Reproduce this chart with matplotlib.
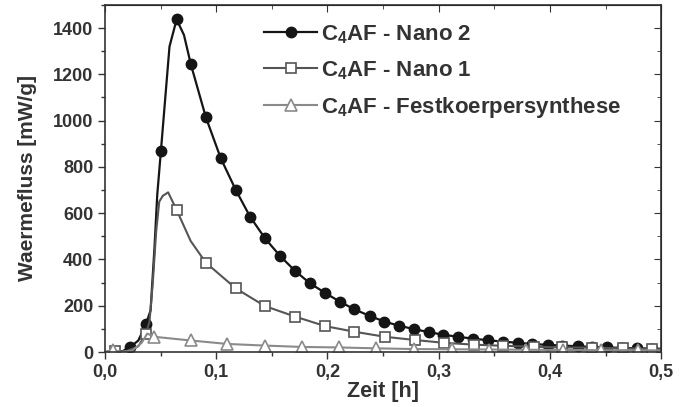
import numpy as np
import matplotlib
matplotlib.use('Agg')
import matplotlib.pyplot as plt
from matplotlib.ticker import MultipleLocator, FuncFormatter

plt.rcParams['font.family'] = ['Liberation Sans', 'DejaVu Sans']
plt.rcParams['font.weight'] = 'bold'
plt.rcParams['mathtext.fontset'] = 'custom'
plt.rcParams['mathtext.rm'] = 'Liberation Sans:bold'
plt.rcParams['mathtext.bf'] = 'Liberation Sans:bold'

# C4AF - Nano 2 (filled circles)
t_nano2 = [0.0, 0.008, 0.015, 0.0224, 0.030, 0.0368, 0.041, 0.0445, 0.047, 0.0503,
           0.058, 0.0644, 0.071, 0.0772, 0.0907, 0.1041, 0.1176, 0.1304, 0.1439,
           0.1574, 0.1708, 0.184, 0.198, 0.211, 0.224, 0.238, 0.251, 0.264, 0.278,
           0.291, 0.304, 0.317, 0.331, 0.344, 0.358, 0.371, 0.384, 0.398, 0.411,
           0.425, 0.438, 0.451, 0.465, 0.478, 0.492, 0.5]
w_nano2 = [0, 3, 2, 20, 50, 120, 180, 450, 680, 870,
           1320, 1437, 1370, 1243, 1014, 837, 700, 585, 491,
           415, 351, 298, 255, 218, 185, 156, 132, 114, 99,
           86, 75, 66, 58, 51, 45, 40, 35, 31, 28,
           25, 22, 20, 18, 16, 15, 14]
mk_nano2 = [3, 5, 9, 11] + list(range(13, 45))

# C4AF - Nano 1 (open squares)
t_nano1 = [0.0, 0.009, 0.020, 0.030, 0.0368, 0.040, 0.043, 0.046, 0.0488, 0.052,
           0.0568, 0.0644, 0.077, 0.0907, 0.1176, 0.1436, 0.171, 0.198, 0.224,
           0.2516, 0.2786, 0.3046, 0.3315, 0.358, 0.3854, 0.411, 0.4378, 0.4656,
           0.4916, 0.5]
w_nano1 = [0, 3, 5, 25, 80, 130, 300, 520, 650, 675,
           690, 614, 480, 386, 275, 199, 153, 112, 88,
           66, 52, 40, 32, 27, 23, 20, 19, 16,
           14, 14]
mk_nano1 = [1, 4, 11] + list(range(13, 29))

# C4AF - Festkoerpersynthese (open triangles)
t_fest = [0.0, 0.007, 0.015, 0.025, 0.033, 0.038, 0.0443, 0.077, 0.110, 0.1436,
          0.1775, 0.2103, 0.244, 0.2777, 0.3115, 0.345, 0.378, 0.412, 0.446,
          0.479, 0.5]
w_fest = [0, 10, 0, 8, 40, 80, 66, 50, 35, 28,
          22, 20, 16, 13, 12, 11, 10, 9, 8,
          8, 7]
mk_fest = [1] + list(range(6, 20))

labels = [r'C$_\mathbf{4}$AF - Nano 2', r'C$_\mathbf{4}$AF - Nano 1',
          r'C$_\mathbf{4}$AF - Festkoerpersynthese']

fig = plt.figure(figsize=(6.86, 4.07), dpi=100)
ax = fig.add_axes([0.153, 0.135, 0.811, 0.853])

ax.plot(t_nano2, w_nano2, color='#151515', lw=1.6, marker='o', ms=7.5,
        mfc='#151515', mec='#151515', markevery=mk_nano2, label=labels[0])
ax.plot(t_nano1, w_nano1, color='#555555', lw=1.5, marker='s', ms=7,
        mfc='white', mec='#555555', mew=1.2, markevery=mk_nano1, label=labels[1])
ax.plot(t_fest, w_fest, color='#8a8a8a', lw=1.5, marker='^', ms=8,
        mfc='white', mec='#8a8a8a', mew=1.2, markevery=mk_fest, label=labels[2])

ax.set_xlim(0, 0.5)
ax.set_ylim(0, 1500)
ax.xaxis.set_major_locator(MultipleLocator(0.1))
ax.xaxis.set_minor_locator(MultipleLocator(0.05))
ax.yaxis.set_major_locator(MultipleLocator(200))
ax.yaxis.set_minor_locator(MultipleLocator(100))
ax.xaxis.set_major_formatter(FuncFormatter(lambda v, p: f'{v:.1f}'.replace('.', ',')))

ax.tick_params(which='both', direction='out', top=False, right=False,
               labelsize=13, colors='#333333', width=1.0)
ax.tick_params(which='major', length=5)
ax.tick_params(which='minor', length=3)
for lab in ax.get_xticklabels() + ax.get_yticklabels():
    lab.set_fontweight('bold')

# mirrored inward ticks on top and right
sec_x = ax.secondary_xaxis('top')
sec_x.xaxis.set_major_locator(MultipleLocator(0.1))
sec_x.xaxis.set_minor_locator(MultipleLocator(0.05))
sec_x.tick_params(which='both', direction='in', labeltop=False, colors='#333333')
sec_x.tick_params(which='major', length=5)
sec_x.tick_params(which='minor', length=3)
sec_y = ax.secondary_yaxis('right')
sec_y.yaxis.set_major_locator(MultipleLocator(200))
sec_y.yaxis.set_minor_locator(MultipleLocator(100))
sec_y.tick_params(which='both', direction='in', labelright=False, colors='#333333')
sec_y.tick_params(which='major', length=5)
sec_y.tick_params(which='minor', length=3)

for s in ax.spines.values():
    s.set_color('#333333')
    s.set_linewidth(1.2)

ax.set_xlabel('Zeit [h]', fontsize=15.5, fontweight='bold', color='#333333', labelpad=0)
ax.set_ylabel('Waermefluss [mW/g]', fontsize=15, fontweight='bold', color='#333333', labelpad=11)

leg = ax.legend(loc='upper left', bbox_to_anchor=(0.25, 1.005), frameon=False,
                fontsize=16, handlelength=2.4, handletextpad=0.15, labelspacing=0.6)
for txt in leg.get_texts():
    txt.set_color('#333333')

fig.savefig('out.png', dpi=100)
